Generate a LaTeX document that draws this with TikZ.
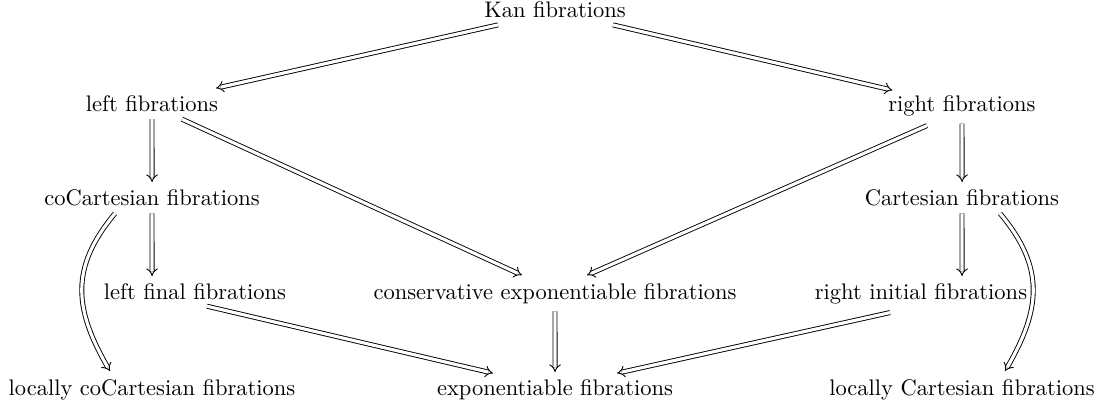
\documentclass[tikz,border=0pt]{standalone}
\usetikzlibrary{arrows.meta,calc,cd}
\begin{document}
\begin{tikzpicture}[x=0.4444pt,y=0.4444pt,
  lbl/.style={anchor=base, inner sep=3.33pt},
  impl/.style={double, double distance=1.4pt, line width=0.4pt, -{tikzcd implies}}]
\useasboundingbox (0,0) rectangle (1100,-405);
% nodes
\node[lbl] (kan)    at (555,-17.7) {Kan fibrations};
\node[lbl] (left)   at (152,-111) {left fibrations};
\node[lbl] (right)  at (962,-111) {right fibrations};
\node[lbl] (cocart) at (152,-205) {coCartesian fibrations};
\node[lbl] (cart)   at (962,-205) {Cartesian fibrations};
\node[lbl] (lfinal) at (195,-299) {left final fibrations};
\node[lbl] (cons)   at (555,-299) {conservative exponentiable fibrations};
\node[lbl] (rinit)  at (921,-299) {right initial fibrations};
\node[lbl] (lcocart) at (152,-395) {locally coCartesian fibrations};
\node[lbl] (expo)   at (555,-395) {exponentiable fibrations};
\node[lbl] (lcart)  at (962,-395) {locally Cartesian fibrations};
% arrows
\draw[impl] ($(kan.south)+(-57,1)$) -- ($(left.north east)+(-10,-1)$);
\draw[impl] ($(kan.south)+(58,1)$) -- ($(right.north west)+(12,-3)$);
\draw[impl] ($(left.south)+(0,0)$) -- ($(cocart.north)+(0.05,-1)$);
\draw[impl] ($(right.south)+(0,0)$) -- ($(cart.north)+(0.05,-1)$);
\draw[impl] ($(left.south)+(30,0)$) -- ($(cons.north)+(-33,0)$);
\draw[impl] ($(right.south)+(-35,-2)$) -- ($(cons.north)+(32,0)$);
\draw[impl] (cocart.south) -- ($(lfinal.north -| cocart.south)+(0.05,-1)$);
\draw[impl] (cart.south) -- ($(rinit.north -| cart.south)+(0.05,-1)$);
\draw[impl] (cons.south) -- ($(expo.north)+(0.05,-1)$);
\draw[impl] ($(lfinal.south)+(12,1)$) -- ($(expo.north)+(-62,-2)$);
\draw[impl] ($(rinit.south)+(-31,-1)$) -- ($(expo.north)+(62,-2)$);
\draw[impl] ($(cocart.south)+(-37,0)$) to[out=-130,in=120,looseness=1.15] ($(lcocart.north)+(-42,0)$);
\draw[impl] ($(cart.south)+(38,0)$) to[out=-50,in=60,looseness=1.15] ($(lcart.north)+(43,0)$);
\end{tikzpicture}
\end{document}
